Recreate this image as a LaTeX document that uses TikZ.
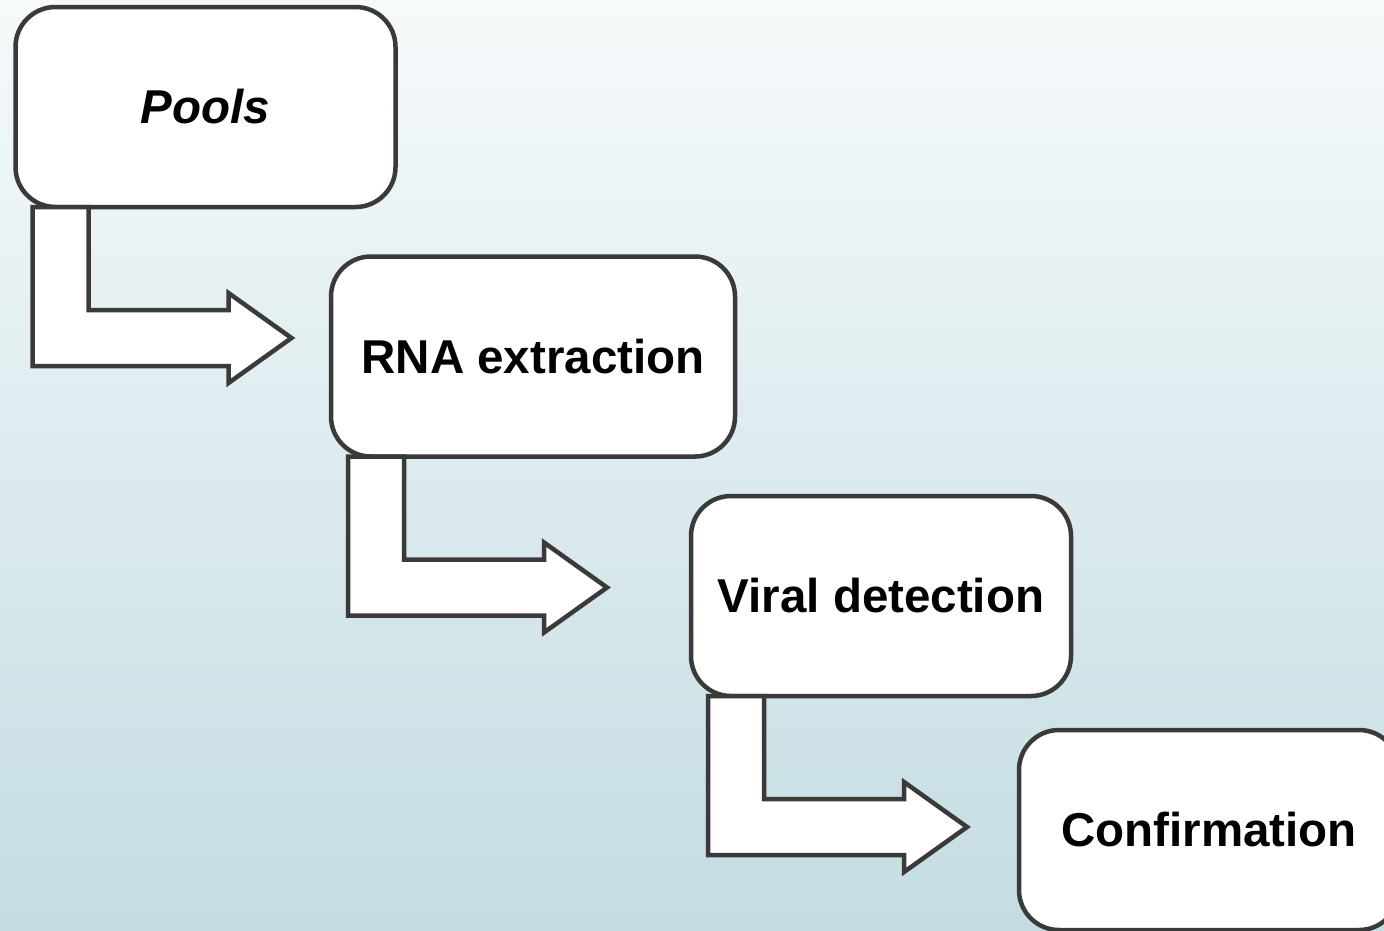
\documentclass[tikz,border=0pt]{standalone}
\usepackage{fontspec}
\setmainfont{Liberation Sans}
\usetikzlibrary{calc}
\definecolor{bgtop}{HTML}{F6FAFB}
\definecolor{bgbot}{HTML}{C4DCE2}
\definecolor{edge}{HTML}{3A3A3A}
\tikzset{
  stepbox/.style={draw=edge, line width=4.5pt, fill=white, rounded corners=40pt,
    minimum width=380pt, minimum height=200pt, inner sep=0pt, outer sep=0pt,
    font=\fontsize{47.5}{54}\selectfont\bfseries, text=black},
  bentarrow/.style={draw=edge, line width=4.5pt, fill=white, line join=miter}
}
\newcommand\bendarrow[1]{%
  \draw[bentarrow] ($(#1.south west)+(17,0)$) -- ++(0,159) -- ++(196,0) -- ++(0,17)
    -- ++(63,-45) -- ++(-63,-45) -- ++(0,17) -- ++(-140,0) -- ++(0,-103) -- cycle;}
\begin{document}
\begin{tikzpicture}[x=1pt,y=-1pt]
\useasboundingbox (0,0) rectangle (1384,930);
\clip (0,0) rectangle (1384,930);
\fill[top color=bgtop, bottom color=bgbot] (0,0) rectangle (1384,930);
\node[stepbox] (pools) at (205.5,107) {\itshape Pools};
\node[stepbox, minimum width=404pt] (rna) at (533,356.5) {RNA extraction};
\node[stepbox] (viral) at (881,596) {Viral detection};
\node[stepbox] (conf) at (1209,830) {Confirmation};
\bendarrow{pools}
\bendarrow{rna}
\bendarrow{viral}
\end{tikzpicture}
\end{document}
